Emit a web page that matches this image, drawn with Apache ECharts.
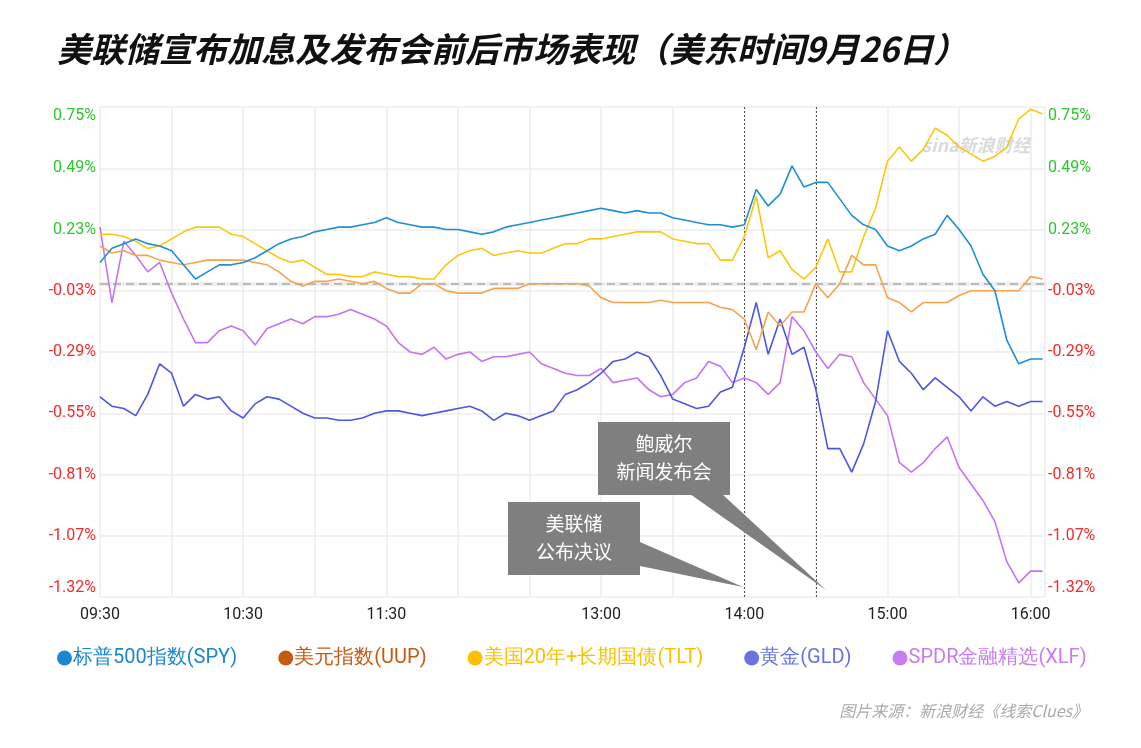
<!DOCTYPE html>
<html><head><meta charset="utf-8">
<script src="https://cdn.jsdelivr.net/npm/echarts@6/dist/echarts.min.js"></script>
<style>html,body{margin:0;padding:0;background:#fff}#c{width:1141px;height:748px}</style>
</head><body><div id="c"></div>
<script>
// minutes since 09:30, every 5 minutes
const times = Array.from({length: 80}, (_, i) => i * 5);
const xTickLabels = {0:'09:30',60:'10:30',120:'11:30',210:'13:00',270:'14:00',330:'15:00',390:'16:00'};
const yTickLabels = ['-1.32%','-1.07%','-0.81%','-0.55%','-0.29%','-0.03%','0.23%','0.49%','0.75%'];
const spy = [0.09,0.15,0.17,0.19,0.17,0.16,0.14,0.08,0.02,0.05,0.08,0.08,0.09,0.11,0.14,0.17,0.19,0.20,0.22,0.23,
  0.24,0.24,0.25,0.26,0.28,0.26,0.25,0.24,0.24,0.23,0.23,0.22,0.21,0.22,0.24,0.25,0.26,0.27,0.28,0.29,
  0.30,0.31,0.32,0.31,0.30,0.31,0.30,0.30,0.28,0.27,0.26,0.25,0.25,0.24,0.25,0.40,0.33,0.38,0.50,0.41,
  0.43,0.43,0.36,0.29,0.25,0.23,0.16,0.14,0.16,0.19,0.21,0.29,0.23,0.16,0.04,-0.03,-0.24,-0.34,-0.32,-0.32];
const uup = [0.16,0.13,0.14,0.12,0.12,0.10,0.09,0.08,0.09,0.10,0.10,0.10,0.10,0.09,0.08,0.05,0.01,-0.01,0.01,0.01,
  0.02,0.01,0.00,0.01,-0.02,-0.04,-0.04,0.00,0.00,-0.03,-0.04,-0.04,-0.04,-0.02,-0.02,-0.02,0.00,0.00,0.00,0.00,
  0.00,-0.01,-0.06,-0.08,-0.08,-0.08,-0.08,-0.07,-0.08,-0.08,-0.08,-0.08,-0.10,-0.11,-0.15,-0.28,-0.12,-0.18,-0.12,-0.12,
  0.00,-0.06,0.00,0.12,0.08,0.08,-0.06,-0.08,-0.12,-0.08,-0.08,-0.08,-0.05,-0.03,-0.03,-0.03,-0.03,-0.03,0.03,0.02];
const tlt = [0.21,0.21,0.20,0.18,0.15,0.16,0.19,0.22,0.24,0.24,0.24,0.21,0.20,0.17,0.14,0.11,0.09,0.10,0.07,0.04,
  0.04,0.03,0.03,0.05,0.04,0.03,0.03,0.02,0.02,0.08,0.12,0.14,0.15,0.12,0.13,0.14,0.13,0.13,0.15,0.17,
  0.17,0.19,0.19,0.20,0.21,0.22,0.22,0.22,0.19,0.18,0.17,0.17,0.10,0.10,0.20,0.37,0.11,0.14,0.06,0.02,
  0.07,0.19,0.05,0.05,0.20,0.32,0.52,0.58,0.52,0.57,0.66,0.63,0.58,0.55,0.52,0.54,0.58,0.70,0.74,0.72];
const gld = [-0.48,-0.52,-0.53,-0.56,-0.47,-0.34,-0.38,-0.52,-0.47,-0.49,-0.48,-0.54,-0.57,-0.51,-0.48,-0.49,-0.52,-0.55,-0.57,-0.57,
  -0.58,-0.58,-0.57,-0.55,-0.54,-0.54,-0.55,-0.56,-0.55,-0.54,-0.53,-0.52,-0.54,-0.58,-0.55,-0.56,-0.58,-0.56,-0.54,-0.47,
  -0.45,-0.42,-0.38,-0.33,-0.32,-0.29,-0.31,-0.39,-0.49,-0.51,-0.53,-0.52,-0.46,-0.44,-0.27,-0.08,-0.30,-0.15,-0.30,-0.27,
  -0.45,-0.70,-0.70,-0.80,-0.68,-0.50,-0.20,-0.33,-0.38,-0.45,-0.40,-0.44,-0.48,-0.54,-0.48,-0.52,-0.50,-0.52,-0.50,-0.50];
const xlf = [0.24,-0.08,0.18,0.12,0.05,0.09,-0.04,-0.15,-0.25,-0.25,-0.20,-0.18,-0.20,-0.26,-0.19,-0.17,-0.15,-0.17,-0.14,-0.14,
  -0.13,-0.11,-0.13,-0.15,-0.18,-0.25,-0.29,-0.30,-0.27,-0.32,-0.30,-0.29,-0.33,-0.31,-0.31,-0.30,-0.29,-0.34,-0.36,-0.38,
  -0.39,-0.39,-0.36,-0.42,-0.41,-0.40,-0.45,-0.48,-0.47,-0.42,-0.40,-0.33,-0.35,-0.42,-0.40,-0.42,-0.47,-0.42,-0.14,-0.20,
  -0.29,-0.36,-0.30,-0.31,-0.42,-0.49,-0.56,-0.76,-0.80,-0.76,-0.70,-0.65,-0.78,-0.85,-0.92,-1.01,-1.18,-1.27,-1.22,-1.22];
const names = ['标普500指数(SPY)','美元指数(UUP)','美国20年+长期国债(TLT)','黄金(GLD)','SPDR金融精选(XLF)'];
const lineColors = ['#1e8fd5','#f7a24e','#f9c80e','#4d56df','#c274f4'];
const legendColors = ['#1a88d0','#c55a11','#fcc000','#6a72e3','#c77cf0'];
const values = [spy, uup, tlt, gld, xlf];

const chart = echarts.init(document.getElementById('c'));
const yLabel = {
  fontSize: 16, fontFamily: 'Roboto',
  formatter: v => {
    const idx = Math.round((v + 1.33) / 0.26);
    const t = yTickLabels[idx];
    const st = idx >= 6 ? 'g' : 'r';
    if (idx === 8) return '{' + st + 'T|' + t + '}';
    if (idx === 0) return '{' + st + 'B|' + t + '}';
    return '{' + st + '|' + t + '}';
  },
  rich: {
    g: {color: '#2ec52e', fontSize: 16}, r: {color: '#f42a2a', fontSize: 16},
    gT: {color: '#2ec52e', fontSize: 16, padding: [18,0,0,0]},
    rB: {color: '#f42a2a', fontSize: 16, padding: [0,0,18,0]}
  }
};
const series = values.map((d, k) => ({
  name: names[k], type: 'line', showSymbol: false, symbol: 'circle',
  data: times.map((t, i) => [t, d[i]]),
  lineStyle: {width: 1.6, color: lineColors[k]}, itemStyle: {color: legendColors[k]},
  z: 10 - k
}));
series[0].markLine = {
  silent: true, symbol: 'none', label: {show: false},
  data: [
    {yAxis: 0, lineStyle: {type: [8, 5], color: '#aaa', width: 1.5}},
    {xAxis: 270, lineStyle: {type: [2, 2], color: '#555', width: 1}},
    {xAxis: 300, lineStyle: {type: [2, 2], color: '#555', width: 1}}
  ]
};
const boxFont = '19px "Noto Sans CJK SC"';
chart.setOption({
  animation: false,
  title: {
    text: '{b|美联储宣布加息及发布会前后市场表现}{n|（美东时间9月26日）}', left: 52, top: 27,
    textStyle: {rich: {
      b: {fontSize: 34, fontWeight: 'bold', fontStyle: 'italic', color: '#111', fontFamily: 'Noto Sans CJK SC'},
      n: {fontSize: 34, fontStyle: 'italic', color: '#111', fontFamily: 'Noto Sans CJK SC'}
    }}
  },
  grid: {left: 100, right: 96, top: 107, bottom: 151},
  xAxis: {
    type: 'value', min: 0, max: 396, interval: 30,
    axisLine: {show: true, lineStyle: {color: '#eee', width: 4}}, axisTick: {show: false},
    splitLine: {show: true, lineStyle: {color: '#ececec', width: 1.5}},
    axisLabel: {color: '#222', fontSize: 16, fontFamily: 'Roboto', margin: 10,
      formatter: v => xTickLabels[v] || '', showMaxLabel: false}
  },
  yAxis: [
    {type: 'value', min: -1.33, max: 0.75, interval: 0.26, position: 'left',
     axisLine: {show: false}, axisTick: {show: false},
     splitLine: {show: true, lineStyle: {color: '#ececec', width: 1.5}},
     axisLabel: Object.assign({margin: 4}, yLabel)},
    {type: 'value', min: -1.33, max: 0.75, interval: 0.26, position: 'right',
     axisLine: {show: false}, axisTick: {show: false}, splitLine: {show: false},
     axisLabel: Object.assign({margin: 3}, yLabel)}
  ],
  legend: {
    bottom: 75, left: 52, itemGap: 41, itemWidth: 15, itemHeight: 15, icon: 'circle',
    data: names.map((n, k) => ({name: n, textStyle: {color: legendColors[k], fontSize: 20, fontFamily: 'Roboto'}})),
    textStyle: {padding: [0,0,0,-4]}
  },
  graphic: [
    {type: 'text', right: 53, top: 703, style: {text: '图片来源：新浪财经《线索Clues》', fill: '#aaa', font: 'italic 16px "Noto Sans CJK SC"'}},
    {type: 'text', left: 922, top: 136, style: {text: 'sina新浪财经', fill: 'rgba(150,150,150,0.35)', font: 'italic bold 18px "Noto Sans CJK SC"'}},
    {type: 'group', z: 100, children: [
      {type: 'polygon', z: 100, shape: {points: [[690,494],[722,494],[826,590]]}, style: {fill: '#7f7f7f'}},
      {type: 'rect', z: 100, shape: {x: 598, y: 422, width: 132, height: 73}, style: {fill: '#7f7f7f'}},
      {type: 'text', z: 101, style: {x: 664, y: 458, text: '鲍威尔\n新闻发布会', fill: '#fff', font: boxFont, align: 'center', verticalAlign: 'middle', lineHeight: 28}},
      {type: 'polygon', z: 100, shape: {points: [[640,542],[640,566],[743,587]]}, style: {fill: '#7f7f7f'}},
      {type: 'rect', z: 100, shape: {x: 508, y: 502, width: 132, height: 73}, style: {fill: '#7f7f7f'}},
      {type: 'text', z: 101, style: {x: 574, y: 538, text: '美联储\n公布决议', fill: '#fff', font: boxFont, align: 'center', verticalAlign: 'middle', lineHeight: 28}}
    ]}
  ],
  series
});
</script></body></html>
